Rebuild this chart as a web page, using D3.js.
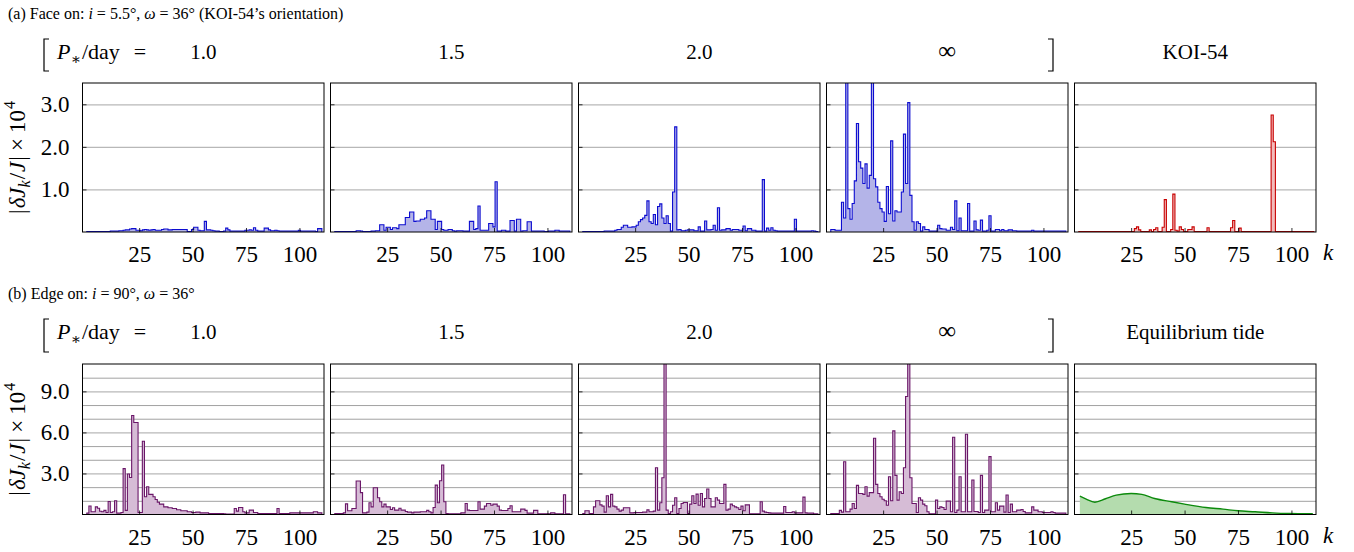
<!DOCTYPE html>
<html>
<head>
<meta charset="utf-8">
<script src="https://cdn.jsdelivr.net/npm/d3@7"></script>
<style>
body { margin: 0; background: #fff; }
svg text { font-family: "Liberation Serif", "DejaVu Serif", serif; fill: #000; }
</style>
</head>
<body>
<svg id="chart" width="1354" height="552" font-family="Liberation Serif, DejaVu Serif, serif"></svg>
<script>
// k = 1..110, one bin each
const kBins = d3.range(1, 111);
const xTicks = [25, 50, 75, 100];
const faceTicks = [1, 2, 3];
const edgeTicks = [3, 6, 9];
const edgeGrid = [1, 2, 3, 4, 5, 6, 7, 8, 9, 10];
const periodLabels = ['1.0', '1.5', '2.0', '\u221e'];

// (a) face on, |dJ_k/J| x 1e4
const faceP10 = [
0.01,0.01,0.01,0.01,0.01,0.01,0.01,0.01,0.01,0.01,
0.01,0.02,0.02,0.02,0.02,0.03,0.03,0.04,0.05,0.05,
0.07,0.08,0.08,0.04,0.04,0.03,0.05,0.06,0.05,0.04,
0.05,0.06,0.04,0.04,0.04,0.06,0.07,0.07,0.05,0.05,
0.06,0.06,0.06,0.06,0.06,0.06,0.06,0.01,0.01,0.06,
0.11,0.11,0.04,0.03,0.03,0.25,0.05,0.05,0.04,0.03,
0.02,0.02,0.01,0.01,0.02,0.09,0.05,0.02,0.02,0.02,
0.02,0.02,0.02,0.02,0.04,0.04,0.05,0.04,0.10,0.04,
0.02,0.02,0.02,0.09,0.09,0.05,0.03,0.03,0.04,0.03,
0.02,0.02,0.02,0.02,0.02,0.02,0.02,0.02,0.02,0.04,
0.02,0.02,0.02,0.02,0.02,0.02,0.02,0.01,0.08,0.08];
const faceP15 = [
0.01,0.01,0.01,0.01,0.01,0.01,0.01,0.01,0.01,0.01,
0.03,0.03,0.02,0.01,0.01,0.01,0.01,0.02,0.02,0.03,
0.03,0.17,0.17,0.04,0.11,0.11,0.06,0.10,0.10,0.08,
0.17,0.17,0.17,0.34,0.34,0.47,0.47,0.25,0.26,0.26,
0.30,0.30,0.33,0.50,0.50,0.30,0.30,0.06,0.25,0.25,
0.06,0.04,0.04,0.06,0.06,0.03,0.02,0.03,0.03,0.03,
0.02,0.02,0.02,0.25,0.25,0.06,0.08,0.61,0.04,0.04,
0.04,0.04,0.20,0.20,0.12,1.18,0.02,0.02,0.04,0.04,
0.02,0.02,0.27,0.27,0.02,0.30,0.30,0.02,0.03,0.03,
0.24,0.24,0.02,0.02,0.02,0.02,0.02,0.02,0.01,0.01,
0.02,0.02,0.02,0.04,0.04,0.02,0.02,0.02,0.02,0.02];
const faceP20 = [
0.01,0.01,0.01,0.01,0.01,0.01,0.01,0.01,0.01,0.01,
0.02,0.02,0.02,0.02,0.02,0.04,0.06,0.06,0.11,0.16,
0.16,0.11,0.11,0.12,0.12,0.16,0.24,0.29,0.33,0.39,
0.73,0.24,0.20,0.41,0.17,0.60,0.66,0.33,0.20,0.38,
0.20,0.02,0.94,2.47,0.05,0.06,0.03,0.03,0.04,0.05,
0.05,0.05,0.03,0.03,0.12,0.02,0.02,0.26,0.05,0.05,
0.06,0.16,0.04,0.57,0.04,0.05,0.05,0.08,0.08,0.04,
0.06,0.06,0.06,0.04,0.04,0.14,0.03,0.08,0.08,0.04,
0.04,0.02,0.02,0.02,1.23,0.02,0.09,0.04,0.10,0.04,
0.03,0.02,0.02,0.02,0.02,0.02,0.02,0.02,0.02,0.30,
0.02,0.02,0.02,0.02,0.02,0.02,0.02,0.03,0.02,0.01];
const faceInf = [
0.06,0.06,0.04,0.04,0.04,0.70,0.33,4.00,0.55,0.30,
0.67,1.20,2.55,1.65,1.50,1.14,1.60,1.03,1.33,4.00,
1.25,1.06,0.70,0.55,0.47,0.25,1.07,0.43,2.14,0.26,
0.50,0.47,0.47,0.94,2.30,1.14,3.04,0.86,0.24,0.04,
0.24,0.20,0.02,0.12,0.06,0.06,0.02,0.02,0.02,0.02,
0.16,0.08,0.07,0.07,0.04,0.04,0.11,0.06,0.73,0.03,
0.33,0.03,0.03,0.03,0.67,0.02,0.02,0.26,0.05,0.04,
0.28,0.02,0.02,0.04,0.38,0.02,0.02,0.06,0.06,0.03,
0.06,0.03,0.03,0.05,0.05,0.03,0.03,0.02,0.02,0.02,
0.02,0.02,0.02,0.02,0.04,0.02,0.02,0.02,0.02,0.02,
0.02,0.02,0.02,0.02,0.02,0.02,0.02,0.02,0.02,0.02];
const koi54 = [
0.01,0.01,0.01,0.01,0.01,0.01,0.01,0.01,0.01,0.01,
0.01,0.01,0.01,0.01,0.01,0.01,0.01,0.01,0.01,0.01,
0.01,0.01,0.01,0.01,0.01,0.01,0.08,0.12,0.05,0.01,
0.01,0.01,0.01,0.05,0.01,0.06,0.10,0.01,0.01,0.11,
0.76,0.01,0.01,0.06,0.89,0.04,0.02,0.12,0.06,0.01,
0.01,0.06,0.06,0.12,0.01,0.01,0.01,0.01,0.01,0.01,
0.10,0.01,0.01,0.01,0.01,0.01,0.01,0.01,0.01,0.01,
0.01,0.10,0.27,0.01,0.01,0.09,0.01,0.01,0.01,0.01,
0.01,0.01,0.01,0.01,0.01,0.01,0.01,0.01,0.01,0.01,
2.75,2.12,0.01,0.01,0.01,0.01,0.01,0.01,0.01,0.01,
0.01,0.01,0.01,0.01,0.01,0.01,0.01,0.01,0.01,0.01];

// (b) edge on
const edgeP10 = [
0.10,0.62,0.20,0.20,0.56,0.46,0.24,0.20,0.30,0.15,
0.95,0.15,0.20,1.00,0.10,0.10,0.15,3.35,0.30,2.96,
2.70,7.24,6.72,6.72,0.15,0.15,5.35,1.30,2.03,1.47,
1.47,1.30,1.10,0.90,0.76,0.76,0.56,0.56,0.49,0.49,
0.44,0.44,0.35,0.35,0.27,0.27,0.27,0.20,0.20,0.15,
0.15,0.17,0.17,0.12,0.12,0.12,0.12,0.07,0.07,0.07,
0.07,0.07,0.07,0.07,0.05,0.03,0.03,0.03,0.03,0.44,
0.25,0.51,0.51,0.20,0.12,0.12,0.32,0.32,0.15,0.15,
0.07,0.07,0.07,0.07,0.07,0.07,0.07,0.07,0.07,0.44,
0.07,0.07,0.07,0.07,0.07,0.12,0.12,0.12,0.12,0.12,
0.12,0.12,0.12,0.12,0.12,0.12,0.20,0.20,0.12,0.12];
const edgeP15 = [
0.07,0.07,0.07,0.07,0.12,0.78,0.27,0.27,0.44,0.44,
2.45,2.45,1.60,0.12,0.12,0.17,0.86,0.56,1.95,1.95,
1.22,0.93,0.56,0.76,0.56,0.56,0.37,0.49,0.32,0.32,
0.46,0.32,0.32,0.22,0.17,0.17,0.12,0.17,0.17,0.17,
0.20,0.20,0.20,0.30,0.20,0.12,0.51,2.15,0.86,2.47,
3.62,0.93,0.07,0.05,0.05,0.05,0.05,0.05,0.05,0.12,
0.12,0.80,0.32,0.29,0.29,0.29,0.29,0.93,0.39,0.39,
0.61,0.80,0.80,0.68,0.76,0.76,0.61,0.32,0.29,0.29,
0.29,0.44,0.64,0.20,0.20,0.20,0.20,0.39,0.39,0.30,
0.10,0.10,0.10,0.30,0.30,0.05,0.05,0.05,0.05,0.05,
0.05,0.12,0.12,0.05,0.05,0.05,0.05,1.44,0.05,0.05];
const edgeP20 = [
0.07,0.27,0.27,0.07,0.07,0.56,1.00,1.00,0.70,0.61,
0.17,1.37,0.56,1.47,0.61,0.56,0.39,0.25,0.32,0.49,
0.49,0.49,0.12,0.12,0.15,0.15,0.15,0.15,0.17,0.17,
0.34,0.20,0.20,0.25,3.42,0.32,0.86,2.69,12.0,0.32,
0.07,0.20,0.68,1.22,0.07,0.44,0.80,0.88,0.88,0.07,
0.76,1.37,0.80,1.49,0.68,1.54,0.56,1.17,1.86,1.17,
0.56,0.56,1.22,1.05,0.80,0.80,2.20,0.32,0.39,0.76,
0.64,0.56,0.49,0.37,0.61,0.27,0.70,0.70,0.05,0.05,
0.05,0.05,0.05,0.93,0.25,0.17,0.15,0.12,0.10,0.10,
0.10,0.10,0.10,0.10,0.59,0.15,0.15,0.15,0.20,0.12,
0.12,0.12,0.12,1.27,0.12,0.10,0.10,0.10,0.05,0.05];
const edgeInf = [
0.07,0.07,0.07,0.07,0.30,0.17,3.86,0.20,0.20,0.39,
0.80,0.44,2.13,1.54,1.54,1.47,2.03,1.34,1.60,1.60,
5.57,2.20,1.54,1.30,1.12,1.00,0.68,2.76,1.00,6.11,
2.86,1.05,1.66,1.54,3.42,8.63,12.0,2.69,0.80,0.80,
0.15,1.22,1.05,0.76,0.64,0.20,0.05,0.05,0.05,1.05,
0.44,0.56,0.51,0.37,0.98,0.98,0.20,5.65,0.15,0.32,
2.76,0.20,0.20,5.87,0.20,0.20,2.52,0.22,0.22,0.15,
2.86,0.15,0.32,0.32,4.23,0.20,0.20,0.86,0.32,0.61,
0.61,0.17,1.42,0.15,0.76,0.20,0.20,0.32,0.32,0.37,
0.22,0.12,0.12,0.12,0.56,0.32,0.32,0.20,0.20,0.15,
0.15,0.15,0.15,0.20,0.15,0.10,0.10,0.10,0.10,0.10];

// equilibrium tide, read at a few k
const tideK = [1, 4, 8, 13, 18, 25, 30, 36, 44, 50, 60, 68, 75, 83, 91, 99, 107, 110];
const tideV = [1.34, 1.12, 0.90, 1.15, 1.42, 1.54, 1.47, 1.17, 0.93, 0.76, 0.51, 0.39, 0.27, 0.20, 0.12, 0.07, 0.05, 0.05];

const svg = d3.select('#chart');
const serif = 'Liberation Serif, DejaVu Serif, serif';

const panelX0 = 82.5;
const panelStep = 248;
const panelW = 241.5;
const blue = { stroke: '#0c0cd0', fill: '#b4b4e8' };
const red = { stroke: '#c80000', fill: '#f2bcbc' };
const purple = { stroke: '#6a1668', fill: '#d6bcd6' };
const green = { stroke: '#0c8a0c', fill: '#b4dcae' };

const x = d3.scaleLinear().domain([-1.5, 111.5]).range([0, panelW]);

const rows = [
  { top: 83, h: 149, max: 3.5, ticks: faceTicks, grid: faceTicks,
    series: [faceP10, faceP15, faceP20, faceInf, koi54],
    colors: [blue, blue, blue, blue, red] },
  { top: 364, h: 150.5, max: 11, ticks: edgeTicks, grid: edgeGrid,
    series: [edgeP10, edgeP15, edgeP20, edgeInf, null],
    colors: [purple, purple, purple, purple, green] }
];

// parts: [text, kind, dx]
function richText(g, px, py, parts, size, anchor) {
  const t = g.append('text')
    .attr('x', px).attr('y', py)
    .attr('font-family', serif)
    .attr('font-size', size)
    .attr('text-anchor', anchor || 'start');
  let shift = 0;
  parts.forEach(([s, kind, dx]) => {
    const sp = t.append('tspan').text(s);
    let target = 0;
    if (kind.includes('sub')) target = 0.22 * size;
    if (kind.includes('sup')) target = -0.42 * size;
    sp.attr('dy', target - shift);
    if (dx) sp.attr('dx', dx);
    shift = target;
    if (kind.includes('it')) sp.attr('font-style', 'italic');
    if (target !== 0) sp.attr('font-size', size * 0.7);
  });
  return t;
}

const stepLine = d3.line().curve(d3.curveStepAfter);

rows.forEach((row, r) => {
  const y = d3.scaleLinear().domain([0, row.max]).range([row.h, 0]);

  row.series.forEach((values, i) => {
    const col = row.colors[i];
    const g = svg.append('g')
      .attr('transform', `translate(${panelX0 + i * panelStep}, ${row.top})`);

    const clipId = `clip-${r}-${i}`;
    g.append('clipPath').attr('id', clipId)
      .append('rect').attr('width', panelW).attr('height', row.h);

    // grid lines
    const grid = g.append('g')
      .call(d3.axisLeft(y).tickValues(row.grid).tickSize(-panelW).tickFormat(''));
    grid.select('.domain').remove();
    grid.selectAll('line')
      .attr('stroke', (d) => (r === 0 || d % 3 === 0) ? '#b8b8b8' : '#8a8a8a')
      .attr('stroke-width', (d) => (r === 0 || d % 3 === 0) ? 1.3 : 0.8);

    const plot = g.append('g').attr('clip-path', `url(#${clipId})`);

    if (values) {
      const pts = [[0.5, 0]]
        .concat(values.map((v, j) => [kBins[j] - 0.5, v]))
        .concat([[kBins[kBins.length - 1] + 0.5, values[values.length - 1]],
                 [kBins[kBins.length - 1] + 0.5, 0]]);
      const scaled = pts.map((p) => [x(p[0]), y(p[1])]);
      plot.append('path')
        .attr('d', stepLine(scaled) + 'Z')
        .attr('fill', col.fill)
        .attr('stroke', 'none');
      plot.append('path')
        .attr('d', stepLine(scaled))
        .attr('fill', 'none')
        .attr('stroke', col.stroke)
        .attr('stroke-width', 1.1);
    } else {
      const tide = tideK.map((k, j) => ({ k, v: tideV[j] }));
      plot.append('path')
        .datum(tide)
        .attr('d', d3.area().curve(d3.curveMonotoneX)
          .x((d) => x(d.k)).y0(y(0)).y1((d) => y(d.v)))
        .attr('fill', col.fill);
      plot.append('path')
        .datum(tide)
        .attr('d', d3.line().curve(d3.curveMonotoneX)
          .x((d) => x(d.k)).y((d) => y(d.v)))
        .attr('fill', 'none')
        .attr('stroke', col.stroke)
        .attr('stroke-width', 1.4);
    }

    // y ticks (inward), labels on first panel only
    const yAx = g.append('g')
      .call(d3.axisLeft(y).tickValues(row.ticks).tickSize(-4).tickPadding(13)
        .tickFormat(i === 0 ? d3.format('.1f') : () => ''))
      .attr('font-family', serif);
    yAx.select('.domain').remove();
    yAx.selectAll('line').attr('stroke', '#000').attr('stroke-width', 0.8);
    yAx.selectAll('text').attr('font-size', 23).attr('fill', '#000');

    // x ticks
    const xAx = g.append('g')
      .attr('transform', `translate(0, ${row.h})`)
      .call(d3.axisBottom(x).tickValues(xTicks).tickSize(-4).tickPadding(14))
      .attr('font-family', serif);
    xAx.select('.domain').remove();
    xAx.selectAll('line').attr('stroke', '#000').attr('stroke-width', 0.8);
    xAx.selectAll('text').attr('font-size', 23).attr('fill', '#000');

    // frame
    g.append('rect')
      .attr('width', panelW).attr('height', row.h)
      .attr('fill', 'none').attr('stroke', '#000').attr('stroke-width', 1);
  });

  // x label
  richText(svg, 1323, row.top + row.h + 28, [['k', 'it']], 23);

  // y label
  const yl = svg.append('g')
    .attr('transform', `translate(25, ${row.top + row.h / 2}) rotate(-90)`);
  richText(yl, 0, 0, [['|', ''], ['\u03b4J', 'it', 1], ['k', 'itsub'], ['/', '', 1], ['J', 'it', 1],
    ['|', '', 1], ['\u00d7', '', 5], ['10', '', 5], ['4', 'sup', 1]], 23, 'middle');
});

// titles
richText(svg, 8, 19, [['(a) Face on: ', ''], ['i', 'it'], [' = 5.5\u00b0, ', ''], ['\u03c9', 'it'],
  [' = 36\u00b0 (KOI-54\u2019s orientation)', '']], 16);
richText(svg, 8, 299, [['(b) Edge on: ', ''], ['i', 'it'], [' = 90\u00b0, ', ''], ['\u03c9', 'it'],
  [' = 36\u00b0', '']], 16);

// header rows with brackets
const headers = [
  { base: 59, top: 39, bottom: 71, last: 'KOI-54' },
  { base: 339, top: 319, bottom: 352, last: 'Equilibrium tide' }
];
headers.forEach((hd) => {
  richText(svg, 57, hd.base, [['P', 'it'], ['\u2217', 'sub'], ['/day', '', 1], ['=', '', 14]], 22);
  periodLabels.concat([hd.last]).forEach((lab, i) => {
    svg.append('text')
      .attr('x', panelX0 + i * panelStep + panelW / 2)
      .attr('y', hd.base)
      .attr('font-family', serif)
      .attr('font-size', lab === '\u221e' ? 25 : 21)
      .attr('font-weight', 300)
      .attr('text-anchor', 'middle')
      .text(lab);
  });
  svg.append('path')
    .attr('d', `M49,${hd.top}H44V${hd.bottom}H49`)
    .attr('fill', 'none').attr('stroke', '#000').attr('stroke-width', 1.2);
  svg.append('path')
    .attr('d', `M1048,${hd.top}H1053V${hd.bottom}H1048`)
    .attr('fill', 'none').attr('stroke', '#000').attr('stroke-width', 1.2);
});
</script>
</body>
</html>
